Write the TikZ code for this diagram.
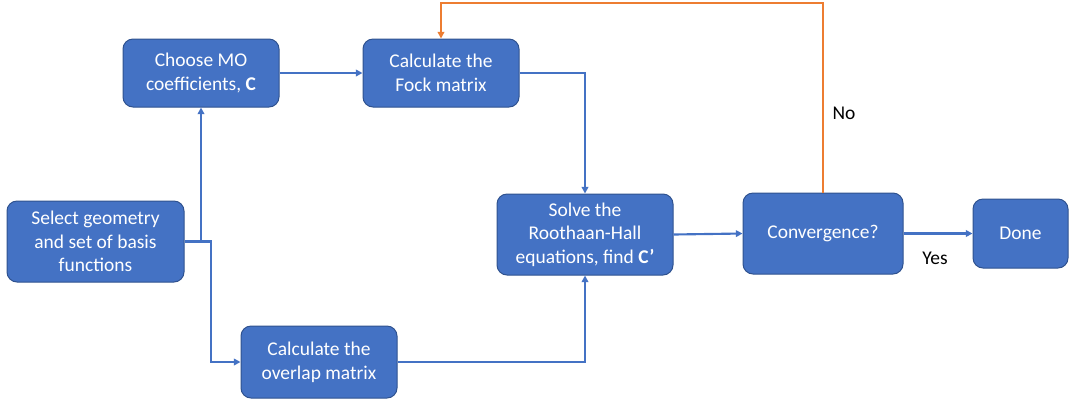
\documentclass[tikz,border=0pt]{standalone}
\usepackage{fontspec}
\setmainfont{Carlito}
\usetikzlibrary{arrows.meta}
\definecolor{boxblue}{HTML}{4472C4}
\definecolor{boxedge}{HTML}{2F528F}
\definecolor{loopor}{HTML}{ED7D31}
\tikzset{
  box/.style={draw=boxedge, line width=0.75pt, fill=boxblue, rounded corners=7.5pt, text=white, align=center, inner sep=2pt, font=\fontsize{14.6}{17.7}\selectfont},
  conn/.style={draw=boxblue, line width=1.6pt, -{Triangle[length=5pt,width=5pt]}},
  lbl/.style={text=black, font=\fontsize{14.6}{17.7}\selectfont}
}
\begin{document}
\begin{tikzpicture}[x=0.75pt,y=-0.75pt]
\useasboundingbox (0,0) rectangle (1075,405);
\node[box, minimum width=132.75pt, minimum height=60.75pt] (sel) at (95.5,241.5) {Select geometry\\and set of basis\\functions};
\node[box, minimum width=117pt, minimum height=51pt] (mo) at (201,73) {Choose MO\\coefficients, \textbf{C}};
\node[box, minimum width=117pt, minimum height=51pt] (fock) at (441,73) {Calculate the\\Fock matrix};
\node[box, minimum width=132pt, minimum height=60.75pt] (solve) at (585,234.5) {Solve the\\Roothaan-Hall\\equations, find \textbf{C’}};
\node[box, minimum width=117pt, minimum height=54pt] (ovl) at (319,362) {Calculate the\\overlap matrix};
\node[box, minimum width=120pt, minimum height=60.75pt] (conv) at (823,233.5) {Convergence?};
\node[box, minimum width=71.25pt, minimum height=51.75pt] (done) at (1020.5,233.5) {Done};
\node[lbl] (no) at (844,113) {No};
\node[lbl] (yes) at (935,258) {Yes};
\coordinate (split1) at (201,241.5);
\coordinate (split2) at (211,241.5);
\coordinate (top) at (823,3);
\draw[conn] (sel.east) -- (split1) -- (mo.south);
\draw[conn] (split1) -- (split2) |- (ovl.west);
\draw[conn] (mo.east) -- (fock.west);
\draw[conn] (fock.east) -| (solve.north);
\draw[conn] (ovl.east) -| (solve.south);
\draw[conn] (solve.east) -- (conv.west);
\draw[conn] (conv.east) -- (done.west);
\draw[conn, draw=loopor, line width=1.8pt] (conv.north) -- (top) -| (fock.north);
\end{tikzpicture}
\end{document}
